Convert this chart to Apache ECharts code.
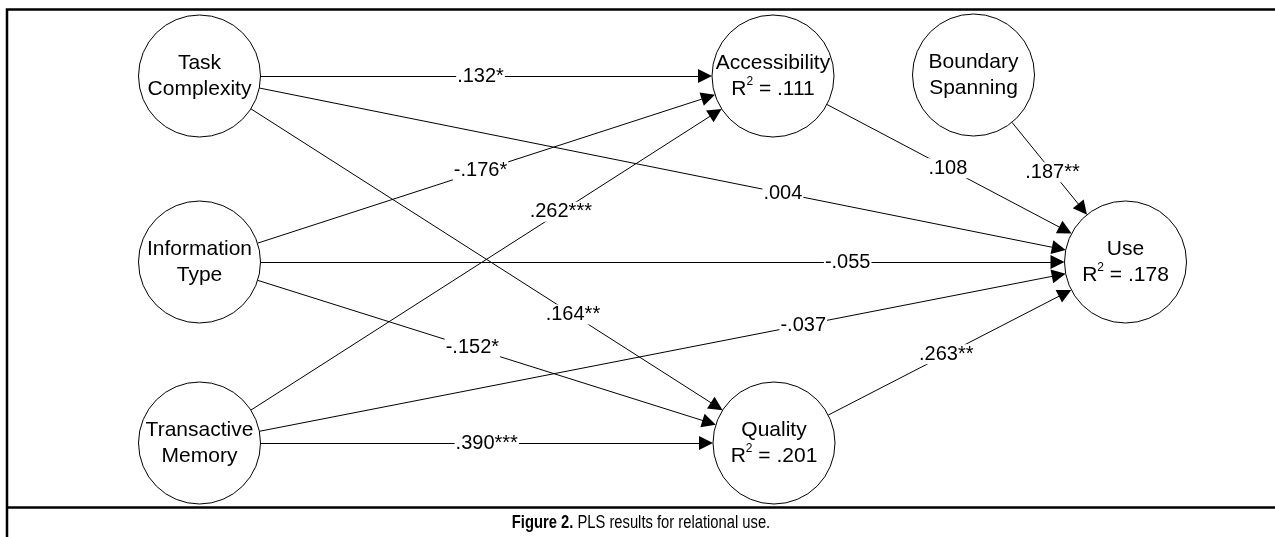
<!DOCTYPE html>
<html>
<head>
<meta charset="utf-8">
<script src="https://cdn.jsdelivr.net/npm/echarts@6/dist/echarts.min.js"></script>
<style>
html, body { margin: 0; padding: 0; background: #fff; }
#pls_chart { width: 1275px; height: 537px; }
</style>
</head>
<body>
<div id="pls_chart"></div>
<script>
// constructs and their R²
const constructs = ['Task\nComplexity', 'Information\nType', 'Transactive\nMemory', 'Accessibility', 'Quality', 'Boundary\nSpanning', 'Use']
const rSquared = ['', '', '', '.111', '.201', '', '.178']

// paths: from -> to, with the PLS coefficient
const pathFrom = [0, 0, 0, 1, 1, 1, 2, 2, 2, 3, 5, 4]
const pathTo = [3, 6, 4, 3, 6, 4, 3, 6, 4, 6, 6, 6]
const pathCoef = ['.132*', '.004', '.164**', '-.176*', '-.055', '-.152*', '.262***', '-.037', '.390***', '.108', '.187**', '.263**']

// diagram layout (canvas px), kept apart from the values
const nodeX = [199.5, 199.5, 199.5, 773, 774, 973.5, 1125.5]
const nodeY = [76, 262, 443, 76, 443, 75, 262]
const labelAt = [0.49, 0.63, 0.65, 0.49, 0.70, 0.475, 0.63, 0.652, 0.5, 0.496, 0.52, 0.49]

const R = 61        // circle radius
const ARROW = 14    // arrow head size
const font = '"Liberation Sans", Arial, Helvetica, sans-serif'

const chartInstance = echarts.init(document.getElementById('pls_chart'))

// build the series data from the arrays above
const nodeData = constructs.map((name, i) => ({
    value: [nodeX[i], nodeY[i]],
    name: name,
    r2: rSquared[i]
}))

const unit = (i) => {
    const f = pathFrom[i], t = pathTo[i]
    const dx = nodeX[t] - nodeX[f], dy = nodeY[t] - nodeY[f]
    const len = Math.hypot(dx, dy)
    return [dx / len, dy / len]
}

const lineData = pathFrom.map((f, i) => {
    const t = pathTo[i]
    const [ux, uy] = unit(i)
    return {
        coords: [
            [nodeX[f] + ux * R, nodeY[f] + uy * R],
            [nodeX[t] - ux * (R + ARROW / 2), nodeY[t] - uy * (R + ARROW / 2)]
        ]
    }
})

const coefData = pathFrom.map((f, i) => {
    const t = pathTo[i]
    const k = labelAt[i]
    return {
        value: [nodeX[f] + (nodeX[t] - nodeX[f]) * k, nodeY[f] + (nodeY[t] - nodeY[f]) * k],
        name: pathCoef[i]
    }
})

const option = {
    animation: false,
    backgroundColor: '#fff',
    grid: { left: 0, right: 0, top: 0, bottom: 0 },
    xAxis: { type: 'value', min: 0, max: 1275, show: false },
    yAxis: { type: 'value', min: 0, max: 537, inverse: true, show: false },
    graphic: [
        {
            type: 'rect',
            shape: { x: 7, y: 9.5, width: 1300, height: 600 },
            style: { fill: 'none', stroke: '#000', lineWidth: 2.5 },
            silent: true
        },
        {
            type: 'line',
            shape: { x1: 7, y1: 507.5, x2: 1300, y2: 507.5 },
            style: { stroke: '#000', lineWidth: 2.5 },
            silent: true
        },
        {
            // caption, squeezed to look like a narrow face
            type: 'text',
            x: 641,
            y: 523,
            scaleX: 0.82,
            silent: true,
            style: {
                text: '{b|Figure 2.} PLS results for relational use.',
                fontFamily: font,
                fontSize: 18,
                fill: '#000',
                align: 'center',
                verticalAlign: 'middle',
                rich: {
                    b: { fontFamily: font, fontSize: 18, fontWeight: 'bold', fill: '#000' }
                }
            }
        }
    ],
    series: [
        {
            name: 'paths',
            type: 'lines',
            coordinateSystem: 'cartesian2d',
            z: 2,
            silent: true,
            symbol: ['none', 'triangle'],
            symbolSize: ARROW,
            lineStyle: { color: '#000', width: 1, opacity: 1 },
            data: lineData
        },
        {
            name: 'constructs',
            type: 'scatter',
            z: 3,
            silent: true,
            symbol: 'circle',
            symbolSize: R * 2,
            itemStyle: { color: '#fff', borderColor: '#000', borderWidth: 1, opacity: 1 },
            label: {
                show: true,
                position: 'inside',
                color: '#000',
                fontFamily: font,
                fontSize: 21,
                lineHeight: 26,
                formatter: (p) => p.data.r2 ? p.data.name + '\nR{sup|2} = ' + p.data.r2 : p.data.name,
                rich: {
                    sup: { fontFamily: font, fontSize: 12, lineHeight: 14, verticalAlign: 'top', color: '#000' }
                }
            },
            data: nodeData
        },
        {
            name: 'coefficients',
            type: 'scatter',
            z: 4,
            silent: true,
            symbolSize: 1,
            itemStyle: { color: 'transparent', opacity: 1 },
            label: {
                show: true,
                position: 'inside',
                formatter: '{b}',
                color: '#000',
                opacity: 1,
                fontFamily: font,
                fontSize: 20,
                backgroundColor: '#fff',
                padding: [0, 1]
            },
            data: coefData
        }
    ]
}
chartInstance.setOption(option)
</script>
</body>
</html>
